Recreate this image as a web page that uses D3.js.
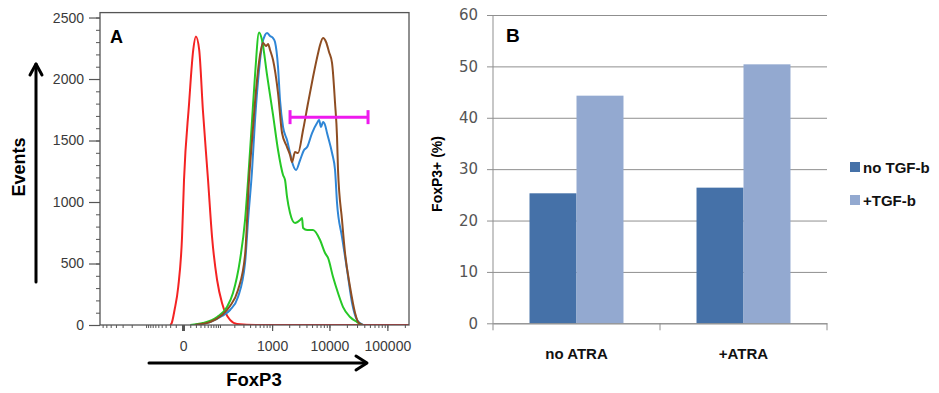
<!DOCTYPE html>
<html>
<head>
<meta charset="utf-8">
<script src="https://cdn.jsdelivr.net/npm/d3@7"></script>
<style>
  body { margin: 0; background: #fff; }
  svg { display: block; }
</style>
</head>
<body>
<svg id="chart" width="939" height="393"></svg>
<script>
// ---- panel A: FoxP3 histograms, [fluorescence, events] ----
const redCurve = [[-20, 0], [-17, 16], [-12, 122], [-6.3, 309], [-1.2, 715], [1.2, 1179], [8, 1790],
  [15, 2236], [20, 2345], [27, 2236], [36, 1748], [51, 1179], [65, 715], [86, 366], [111, 179],
  [164, 41], [226, 8], [600, 0], [236000, 0]];
const greenCurve = [[10, 0], [36, 16], [86, 65], [142, 146], [188, 260], [258, 528], [322, 854],
  [367, 1179], [435, 1667], [493, 2033], [583, 2378], [660, 2317], [812, 2033], [1040, 1707],
  [1273, 1423], [1560, 1220], [1691, 1179], [1833, 1041], [2070, 911], [2530, 829], [3100, 854],
  [3350, 870], [3490, 789], [4110, 772], [4620, 772], [5200, 772], [6880, 691], [8400, 585],
  [9460, 545], [11550, 390], [14070, 260], [17200, 146], [22700, 65], [30000, 24], [36550, 0]];
const blueCurve = [[18, 0], [58, 24], [111, 73], [164, 122], [236, 228], [322, 504], [367, 854],
  [435, 1260], [493, 1667], [583, 2073], [660, 2276], [748, 2358], [812, 2374], [919, 2350],
  [1040, 2333], [1126, 2301], [1273, 2098], [1380, 1829], [1560, 1610], [1833, 1504], [2070, 1398],
  [2335, 1301], [2635, 1260], [3100, 1341], [3630, 1423], [4110, 1447], [5000, 1561], [6100, 1642],
  [6620, 1667], [7150, 1610], [7760, 1650], [8400, 1626], [9090, 1561], [11100, 1398], [12500, 1260],
  [13530, 992], [16500, 715], [20200, 447], [24600, 179], [30000, 41], [38000, 0]];
const brownCurve = [[18, 0], [58, 24], [111, 81], [164, 154], [236, 285], [322, 569], [382, 1179],
  [435, 1504], [515, 1911], [608, 2195], [688, 2293], [780, 2268], [847, 2285], [919, 2236],
  [1040, 2154], [1273, 1886], [1498, 1561], [1833, 1447], [2070, 1382], [2240, 1325], [2530, 1407],
  [2853, 1398], [3490, 1585], [4260, 1805], [5200, 2016], [6370, 2211], [6880, 2276], [7760, 2333],
  [8740, 2301], [9840, 2220], [11100, 2130], [12500, 1805], [13530, 1528], [14070, 1260],
  [16500, 854], [18600, 585], [22700, 309], [27700, 98], [31200, 24], [38000, 0]];
const gateRange = [2070, 46400];
const gateLevel = 1690;
const yTicksA = [0, 500, 1000, 1500, 2000, 2500];
const xTicksA = [0, 1000, 10000, 100000];

// ---- panel B: FoxP3+ percentages ----
const categories = ['no ATRA', '+ATRA'];
const seriesNames = ['no TGF-b', '+TGF-b'];
const noTGF = [25.3, 26.4];
const plusTGF = [44.3, 50.4];
const yTicksB = [0, 10, 20, 30, 40, 50, 60];

const svg = d3.select('#chart');
const fontA = '"Liberation Sans", Arial, sans-serif';

// ================= panel A =================
const xA = d3.scaleSymlog().constant(30).domain([-780, 236000]).range([100, 409]);
const yA = d3.scaleLinear().domain([0, 2540]).range([325, 12.6]);
const gA = svg.append('g');

gA.append('defs').append('clipPath').attr('id', 'clipA')
  .append('rect')
    .attr('x', xA.range()[0]).attr('y', yA(2540))
    .attr('width', xA.range()[1] - xA.range()[0]).attr('height', yA(0) - yA(2540));

// minor y ticks
gA.append('g')
  .attr('transform', `translate(${xA.range()[0]},0)`)
  .call(d3.axisLeft(yA).tickValues(d3.range(0, 2501, 100)).tickSize(4).tickFormat(''))
  .call(g => g.select('.domain').remove())
  .call(g => g.selectAll('line').attr('stroke', '#555'));

gA.append('g')
  .attr('transform', `translate(${xA.range()[0]},0)`)
  .call(d3.axisLeft(yA).tickValues(yTicksA).tickSize(11).tickPadding(5).tickFormat(d3.format('d')))
  .call(g => g.select('.domain').remove())
  .call(g => g.selectAll('line').attr('stroke', '#555').attr('stroke-width', 1.2))
  .call(g => g.selectAll('text').attr('font-family', fontA).attr('font-size', 14).attr('fill', '#3a3a3a'));

// x ticks: minor log ticks on both sides of zero
const minorX = [];
[10, 100, 1000, 10000, 100000].forEach(d => {
  for (let m = 1; m < 10; m++) {
    const v = m * d;
    if (v < 236000) minorX.push(v);
    if (v < 780) minorX.push(-v);
  }
});
gA.append('g')
  .attr('transform', `translate(0,${yA(0)})`)
  .call(d3.axisBottom(xA).tickValues(minorX).tickSize(3).tickFormat(''))
  .call(g => g.select('.domain').remove())
  .call(g => g.selectAll('line').attr('stroke', '#555'));

gA.append('g')
  .attr('transform', `translate(0,${yA(0)})`)
  .call(d3.axisBottom(xA).tickValues(xTicksA).tickSize(6).tickPadding(10).tickFormat(d3.format('d')))
  .call(g => g.select('.domain').remove())
  .call(g => g.selectAll('line').attr('stroke', '#555').attr('stroke-width', d => d === 0 ? 3 : 1.2))
  .call(g => g.selectAll('text').attr('font-family', fontA).attr('font-size', 14).attr('fill', '#3a3a3a'));

// curves
const lineA = d3.line()
  .x(d => xA(d[0]))
  .y(d => yA(d[1]))
  .curve(d3.curveMonotoneX);

const curves = [
  { data: redCurve, color: '#f42323' },
  { data: blueCurve, color: '#2f86d6' },
  { data: greenCurve, color: '#26c826' },
  { data: brownCurve, color: '#8e4d22' }
];
gA.append('g').attr('clip-path', 'url(#clipA)')
  .selectAll('path')
  .data(curves)
  .join('path')
    .attr('d', d => lineA(d.data))
    .attr('fill', 'none')
    .attr('stroke', d => d.color)
    .attr('stroke-width', 2)
    .attr('stroke-linejoin', 'round');

// frame
gA.append('rect')
  .attr('x', xA.range()[0]).attr('y', yA(2540))
  .attr('width', xA.range()[1] - xA.range()[0]).attr('height', yA(0) - yA(2540))
  .attr('fill', 'none').attr('stroke', '#555').attr('stroke-width', 1.3);

// gate marker
const gate = gA.append('g').attr('stroke', '#ee1aee').attr('stroke-width', 3);
gate.append('line')
  .attr('x1', xA(gateRange[0])).attr('x2', xA(gateRange[1]))
  .attr('y1', yA(gateLevel)).attr('y2', yA(gateLevel));
gate.selectAll('line.cap')
  .data(gateRange)
  .join('line')
    .attr('class', 'cap')
    .attr('x1', d => xA(d)).attr('x2', d => xA(d))
    .attr('y1', yA(gateLevel) - 7).attr('y2', yA(gateLevel) + 7);

gA.append('text')
  .attr('x', 110).attr('y', 43)
  .attr('font-family', fontA).attr('font-weight', 'bold').attr('font-size', 18)
  .text('A');

// axis arrows
const arrows = gA.append('g').attr('stroke', '#000').attr('stroke-width', 3).attr('fill', 'none')
  .attr('stroke-linecap', 'round').attr('stroke-linejoin', 'round');
arrows.append('line').attr('x1', 36).attr('x2', 36).attr('y1', 282).attr('y2', 64);
arrows.append('path').attr('d', 'M30,75 L36,64 L42,75');
arrows.append('line').attr('x1', 149).attr('x2', 366).attr('y1', 363).attr('y2', 363);
arrows.append('path').attr('d', 'M356,356 L367,363 L356,370');

gA.append('text')
  .attr('transform', 'translate(25,167) rotate(-90)')
  .attr('text-anchor', 'middle')
  .attr('font-family', fontA).attr('font-weight', 'bold').attr('font-size', 18)
  .text('Events');

gA.append('text')
  .attr('x', 254).attr('y', 386)
  .attr('text-anchor', 'middle')
  .attr('font-family', fontA).attr('font-weight', 'bold').attr('font-size', 18.5)
  .text('FoxP3');

// ================= panel B =================
const fontB = '"DejaVu Sans", "Open Sans", sans-serif';
const xB = d3.scaleBand().domain(categories).range([493, 827]);
const xSub = d3.scaleBand().domain(seriesNames).range([0, xB.bandwidth()]).paddingOuter(0.777);
const yB = d3.scaleLinear().domain([0, 60]).range([323.3, 15]);
const colorB = d3.scaleOrdinal().domain(seriesNames).range(['#4571a8', '#93a9d0']);
const gB = svg.append('g');

// gridlines + y labels
gB.append('g')
  .attr('transform', `translate(${xB.range()[1]},0)`)
  .call(d3.axisLeft(yB).tickValues(yTicksB).tickSize(xB.range()[1] - xB.range()[0] + 6).tickPadding(9))
  .call(g => g.select('.domain').remove())
  .call(g => g.selectAll('line').attr('stroke', '#8f8f8f'))
  .call(g => g.selectAll('text').attr('font-family', fontB).attr('font-size', 15).attr('fill', '#555'));

const barRows = categories.map((c, i) => ({ category: c, values: [noTGF[i], plusTGF[i]] }));
gB.append('g')
  .selectAll('g')
  .data(barRows)
  .join('g')
    .attr('transform', d => `translate(${xB(d.category)},0)`)
  .selectAll('rect')
  .data(d => d.values.map((v, j) => ({ series: seriesNames[j], value: v })))
  .join('rect')
    .attr('x', d => xSub(d.series))
    .attr('width', xSub.bandwidth())
    .attr('y', d => yB(d.value))
    .attr('height', d => yB(0) - yB(d.value))
    .attr('fill', d => colorB(d.series));

// y axis line
gB.append('line')
  .attr('x1', xB.range()[0]).attr('x2', xB.range()[0])
  .attr('y1', yB(60)).attr('y2', yB(0))
  .attr('stroke', '#8f8f8f');

// x axis with category boundary ticks
gB.append('g')
  .attr('transform', `translate(0,${yB(0)})`)
  .call(d3.axisBottom(xB).tickSize(0).tickPadding(25))
  .call(g => g.select('.domain').attr('stroke', '#8f8f8f'))
  .call(g => g.selectAll('text').attr('font-family', fontA).attr('font-weight', 'bold')
    .attr('font-size', 15).attr('fill', '#111'));
gB.append('g')
  .selectAll('line')
  .data([...categories.map(c => xB(c)), xB.range()[1]])
  .join('line')
    .attr('x1', d => d).attr('x2', d => d)
    .attr('y1', yB(0)).attr('y2', yB(0) + 7)
    .attr('stroke', '#8f8f8f');

gB.append('text')
  .attr('transform', 'translate(442,174) rotate(-90)')
  .attr('text-anchor', 'middle')
  .attr('font-family', fontA).attr('font-weight', 'bold').attr('font-size', 14)
  .text('FoxP3+ (%)');

gB.append('text')
  .attr('x', 506).attr('y', 42)
  .attr('font-family', fontA).attr('font-weight', 'bold').attr('font-size', 19)
  .text('B');

// legend
const legend = gB.append('g')
  .selectAll('g')
  .data(seriesNames)
  .join('g')
    .attr('transform', (d, i) => `translate(850,${162 + i * 33})`);
legend.append('rect').attr('width', 10).attr('height', 10).attr('fill', d => colorB(d));
legend.append('text')
  .attr('x', 13).attr('y', 10.5)
  .attr('font-family', fontA).attr('font-weight', 'bold').attr('font-size', 15).attr('fill', '#111')
  .text(d => d);
</script>
</body>
</html>
